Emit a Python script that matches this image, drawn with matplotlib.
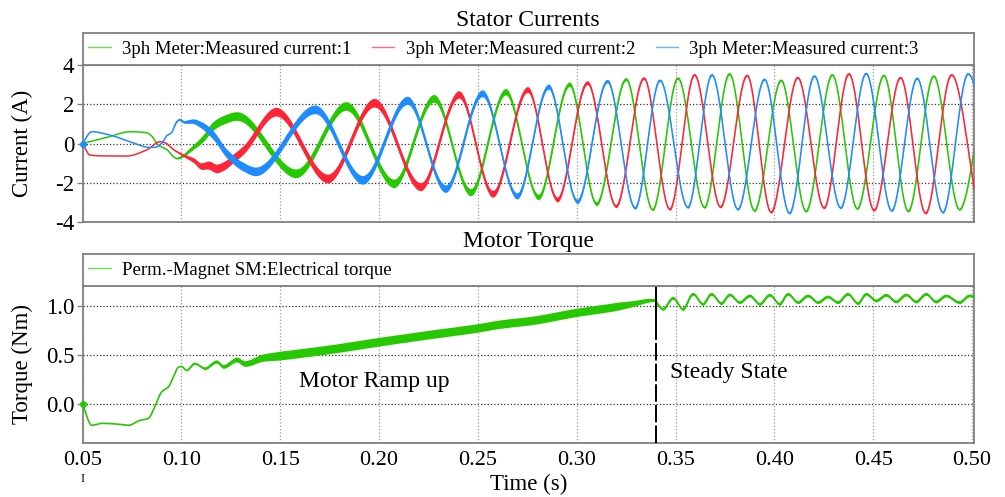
import numpy as np
import matplotlib
matplotlib.use("Agg")
import matplotlib.pyplot as plt
from matplotlib.lines import Line2D

SERIF = ["Liberation Serif", "DejaVu Serif"]
plt.rcParams["font.family"] = SERIF
plt.rcParams["axes.unicode_minus"] = False

# ---- stator currents: turning points of each phase (s, A) ----
t_ph1 = [0.05, 0.062, 0.074, 0.0824, 0.085, 0.0883, 0.0925, 0.0976, 0.1009, 0.1043,
         0.111, 0.1161, 0.1211, 0.1280, 0.158, 0.1833, 0.2075, 0.2277, 0.2463, 0.264,
         0.2806, 0.2963, 0.310, 0.325, 0.3384, 0.3512, 0.3646, 0.3773, 0.3899, 0.4034,
         0.416, 0.4293, 0.4419, 0.4554, 0.4677, 0.4806, 0.4936, 0.507]
i_ph1 = [0.0, 0.30, 0.60, 0.55, 0.38, -0.08, -0.30, -0.76, -0.62, -0.33,
         0.27, 0.90, 1.20, 1.40, -1.52, 1.91, -2.03, 2.30, -2.48, 2.64,
         -2.72, 3.02, -3.07, 3.28, -3.37, 3.33, -3.25, 3.55, -3.42, 3.22,
         -3.45, 3.50, -3.32, 3.47, -3.45, 3.44, -3.36, 3.50]

t_ph2 = [0.05, 0.0538, 0.06, 0.0723, 0.0824, 0.0892, 0.0917, 0.0959, 0.1009, 0.106,
         0.1102, 0.1136, 0.1178, 0.1212, 0.1262, 0.1313, 0.1479, 0.174, 0.1976, 0.221,
         0.2404, 0.2575, 0.2751, 0.2902, 0.3054, 0.3199, 0.334, 0.3471, 0.3596, 0.3727,
         0.3862, 0.3983, 0.4118, 0.4251, 0.4377, 0.4504, 0.4638, 0.4765, 0.4896, 0.503]
i_ph2 = [0.0, -0.59, -0.63, -0.64, -0.33, 0.09, 0.04, -0.30, -0.59, -0.84,
         -1.15, -1.10, -1.27, -1.15, -0.76, -0.33, 1.62, -1.78, 2.08, -2.20,
         2.50, -2.56, 2.75, -2.85, 3.10, -3.19, 3.33, -3.35, 3.50, -3.23,
         3.47, -3.50, 3.36, -3.28, 3.55, -3.40, 3.36, -3.55, 3.50, -3.45]

t_ph3 = [0.05, 0.0547, 0.0639, 0.074, 0.0841, 0.0866, 0.09, 0.0925, 0.095, 0.0976,
         0.099, 0.1015, 0.1055, 0.1102, 0.1161, 0.1229, 0.1313, 0.1375, 0.1676, 0.1917,
         0.2143, 0.2336, 0.2522, 0.2698, 0.2857, 0.3003, 0.3155, 0.3295, 0.3421, 0.3562,
         0.3684, 0.3815, 0.395, 0.4076, 0.4202, 0.4335, 0.4464, 0.4593, 0.4722, 0.4852,
         0.498, 0.512]
i_ph3 = [0.0, 0.60, 0.43, 0.09, -0.20, -0.20, 0.0, 0.38, 0.55, 1.10,
         1.22, 1.10, 1.14, 0.94, 0.43, -0.50, -1.18, -1.42, 1.74, -1.85,
         2.20, -2.30, 2.56, -2.67, 2.90, -2.95, 3.18, -3.28, 3.22, -3.25,
         3.50, -3.35, 3.27, -3.55, 3.44, -3.28, 3.57, -3.42, 3.32, -3.51,
         3.55, -3.40]

# ---- electrical torque (s, Nm) ----
t_torque = [0.05, 0.0547, 0.0597, 0.069, 0.0732, 0.079, 0.0833, 0.0866, 0.09, 0.0934,
            0.0959, 0.0984, 0.1001, 0.1027, 0.1068, 0.1119, 0.1178, 0.1212, 0.128, 0.132,
            0.1414, 0.1498, 0.1767, 0.1994, 0.2272, 0.2491, 0.2609, 0.2777, 0.2996, 0.3165,
            0.3282, 0.3386, 0.3436, 0.3487, 0.3537, 0.3588, 0.3638, 0.3681, 0.3731, 0.3774,
            0.3824, 0.3875, 0.3925, 0.3976, 0.4026, 0.4068, 0.4119, 0.4169, 0.4220, 0.4270,
            0.4321, 0.4371, 0.4422, 0.4464, 0.4514, 0.4565, 0.4615, 0.4666, 0.4716, 0.4767,
            0.4817, 0.4868, 0.4935, 0.4986, 0.501]
torque = [0.0, -0.22, -0.20, -0.21, -0.22, -0.17, -0.15, -0.03, 0.12, 0.17,
          0.27, 0.37, 0.38, 0.34, 0.41, 0.36, 0.43, 0.38, 0.45, 0.41,
          0.47, 0.49, 0.56, 0.63, 0.71, 0.77, 0.81, 0.85, 0.93, 0.98,
          1.02, 1.058, 0.966, 1.078, 0.966, 1.119, 1.017, 1.119, 1.024, 1.112,
          1.034, 1.102, 1.017, 1.109, 1.017, 1.119, 1.034, 1.102, 1.034, 1.092,
          1.034, 1.119, 1.024, 1.119, 1.051, 1.109, 1.041, 1.112, 1.041, 1.119,
          1.041, 1.102, 1.034, 1.102, 1.09]

x_ticks = [0.05, 0.10, 0.15, 0.20, 0.25, 0.30, 0.35, 0.40, 0.45, 0.50]
current_ticks = [-4, -2, 0, 2, 4]
torque_ticks = [0.0, 0.5, 1.0]
current_labels = ["3ph Meter:Measured current:1", "3ph Meter:Measured current:2",
                  "3ph Meter:Measured current:3"]
torque_label = "Perm.-Magnet SM:Electrical torque"
t_steady = 0.34

GREEN = "#26c800"
RED = "#ff2436"
BLUE = "#1e8cff"
EDGE = "#808080"


def smooth_trace(x, y, xs):
    # monotone cubic (PCHIP) through the turning points
    x = np.asarray(x, float)
    y = np.asarray(y, float)
    h = np.diff(x)
    d = np.diff(y) / h
    m = np.zeros_like(y)
    for k in range(1, len(x) - 1):
        if d[k - 1] * d[k] > 0:
            w1 = 2 * h[k] + h[k - 1]
            w2 = h[k] + 2 * h[k - 1]
            m[k] = (w1 + w2) / (w1 / d[k - 1] + w2 / d[k])
    m[0] = d[0]
    m[-1] = d[-1]
    idx = np.clip(np.searchsorted(x, xs) - 1, 0, len(x) - 2)
    s = (xs - x[idx]) / h[idx]
    h00 = 2 * s**3 - 3 * s**2 + 1
    h10 = s**3 - 2 * s**2 + s
    h01 = -2 * s**3 + 3 * s**2
    h11 = s**3 - s**2
    return (h00 * y[idx] + h10 * h[idx] * m[idx]
            + h01 * y[idx + 1] + h11 * h[idx] * m[idx + 1])


def draw_trace(ax, t, v, color, band_t, band_h, lw, z):
    ts = np.linspace(t[0], t[-1], 8000)
    ys = smooth_trace(t, v, ts)
    half = np.interp(ts, band_t, band_h)
    ax.fill_between(ts, ys - half, ys + half, color=color, lw=0, zorder=z)
    ax.plot(ts, ys, color=color, lw=lw, zorder=z, solid_joinstyle="round")


def style_axes(ax):
    for sp in ax.spines.values():
        sp.set_color(EDGE)
        sp.set_linewidth(1.3)


def header(ax):
    style_axes(ax)
    ax.set_xticks([])
    ax.set_yticks([])


fig = plt.figure(figsize=(10.05, 4.97), dpi=100)
left, width = 0.0821, 0.8871
ax_i = fig.add_axes([left, 0.5533, width, 0.3159])
hd_i = fig.add_axes([left, 0.8692, width, 0.0644])
ax_t = fig.add_axes([left, 0.1087, width, 0.3159])
hd_t = fig.add_axes([left, 0.4245, width, 0.0644])

# stator currents
band_t_cur = [0.05, 0.095, 0.115, 0.20, 0.26, 0.30, 0.34, 0.51]
band_h_cur = [0.0, 0.0, 0.22, 0.22, 0.17, 0.11, 0.05, 0.04]
for t, v, c, z in [(t_ph1, i_ph1, GREEN, 2), (t_ph2, i_ph2, RED, 3), (t_ph3, i_ph3, BLUE, 4)]:
    draw_trace(ax_i, t, v, c, band_t_cur, band_h_cur, 1.1, z)
ax_i.plot(0.05, 0, "o", color=BLUE, ms=4, zorder=5, clip_on=False)

ax_i.set_xlim(0.05, 0.501)
ax_i.set_ylim(-4, 4)
ax_i.set_xticks(x_ticks)
ax_i.set_xticklabels([])
ax_i.set_yticks(current_ticks)
ax_i.set_yticklabels([str(v) for v in current_ticks])
ax_i.set_ylabel("Current (A)", fontsize=16.5)

# motor torque
band_t_tq = [0.05, 0.098, 0.12, 0.15, 0.32, 0.34, 0.51]
band_h_tq = [0.0, 0.0, 0.018, 0.045, 0.042, 0.014, 0.014]
draw_trace(ax_t, t_torque, torque, GREEN, band_t_tq, band_h_tq, 1.2, 3)
ax_t.plot(0.05, 0, "o", color=GREEN, ms=4, zorder=5, clip_on=False)

ax_t.vlines(t_steady, 0.78, 1.2, color="black", lw=1.4, zorder=6)
ax_t.vlines(t_steady, -0.4, 0.78, color="black", lw=1.4, zorder=6,
            linestyles=(0, (9, 1.6)))

ax_t.text(0.1594, 0.17, "Motor Ramp up", fontsize=17, family=SERIF,
          ha="left", va="baseline")
ax_t.text(0.3473, 0.26, "Steady State", fontsize=17, family=SERIF,
          ha="left", va="baseline")

ax_t.set_xlim(0.05, 0.501)
ax_t.set_ylim(-0.4, 1.2)
ax_t.set_xticks(x_ticks)
ax_t.set_xticklabels([f"{v:.2f}" for v in x_ticks])
ax_t.set_yticks(torque_ticks)
ax_t.set_yticklabels([f"{v:.1f}" for v in torque_ticks])
ax_t.set_ylabel("Torque (Nm)", fontsize=16.5)
ax_t.set_xlabel("Time (s)", fontsize=16.5, va="top")
ax_t.xaxis.set_label_coords(0.5, -0.195)

for ax in (ax_i, ax_t):
    style_axes(ax)
    ax.grid(True, axis="x", linestyle=":", color="#9a9a9a", lw=0.9)
    ax.grid(True, axis="y", linestyle=":", color="#333333", lw=0.9)
    ax.set_axisbelow(True)
    ax.tick_params(axis="x", length=0, pad=6, labelsize=16)
    ax.tick_params(axis="y", length=4, width=1.0, color=EDGE, pad=2, labelsize=16.5)
    ax.yaxis.set_label_coords(-0.055, 0.5)

# legend header boxes
header(hd_i)
header(hd_t)
hd_i.set_title("Stator Currents", fontsize=17, pad=5)
hd_t.set_title("Motor Torque", fontsize=17, pad=5)

leg_kw = dict(loc="center left", bbox_to_anchor=(0, 0.5), frameon=False,
              prop={"family": SERIF, "size": 13.5}, handlelength=1.2,
              handletextpad=0.6, columnspacing=1.1, borderaxespad=0, borderpad=0.3)
cur_handles = [Line2D([], [], color=c, lw=1.0) for c in ("#6fdc55", "#ff6a76", "#6ab4ff")]
hd_i.legend(cur_handles, current_labels, ncol=3, **leg_kw)
hd_t.legend([Line2D([], [], color="#6fdc55", lw=1.0)], [torque_label], **leg_kw)

fig.text(83 / 1005, 1 - 479 / 497, "I", fontsize=9, ha="center", va="center")

fig.savefig("out.png", dpi=100)
